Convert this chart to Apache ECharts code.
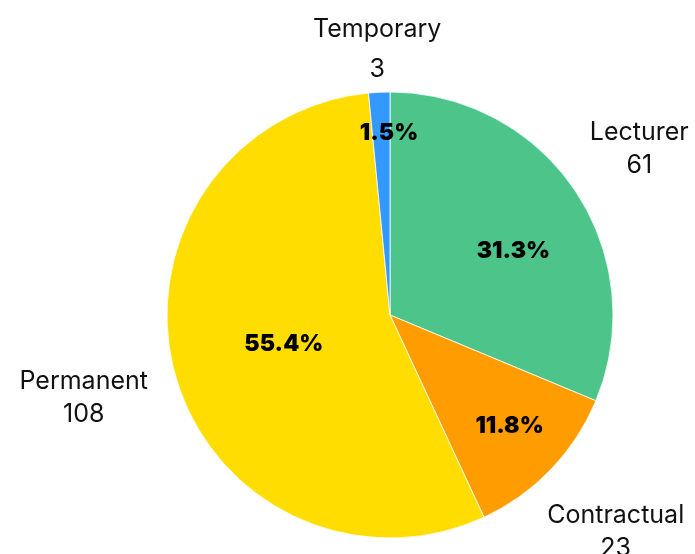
<!DOCTYPE html>
<html>
<head>
<meta charset="utf-8">
<script src="https://cdn.jsdelivr.net/npm/echarts@6/dist/echarts.min.js"></script>
<style>
  html, body { margin: 0; padding: 0; background: #fff; }
  #chart { width: 695px; height: 554px; }
</style>
</head>
<body>
<div id="chart"></div>
<script>
var names = ['Lecturer', 'Contractual', 'Permanent', 'Temporary'];
var counts = [61, 23, 108, 3];
var colors = ['#4dc489', '#ff9c00', '#ffdd00', '#3399ff'];
// where each label sits, as a fraction of the pie radius
var pctDist = [0.63, 0.73, 0.48, 0.82];
var nameDist = [1.33, 1.39, 1.41, 1.18];

var R = 223;
var center = [390, 315];
var total = counts.reduce(function (a, b) { return a + b; }, 0);
var font = 'Inter, "Noto Sans", sans-serif';
// small nudges for the percent labels
var pctNudge = [[4, 16], [0, -4], [0, 0], [8, 4]];

var baseData = names.map(function (n, i) {
  return { name: n, value: counts[i], itemStyle: { color: colors[i] } };
});

var series = [{
  type: 'pie',
  center: center,
  radius: [0, R],
  startAngle: 90,
  clockwise: true,
  silent: true,
  label: { show: false },
  labelLine: { show: false },
  itemStyle: { borderColor: '#fff', borderWidth: 0.8 },
  data: baseData
}];

function labelSeries(idx, dist, fmt, style) {
  return {
    type: 'pie',
    center: center,
    radius: [0, 2 * dist * R],
    startAngle: 90,
    clockwise: true,
    silent: true,
    z: 5,
    itemStyle: { color: 'transparent' },
    labelLine: { show: false },
    label: { show: false },
    data: names.map(function (n, i) {
      var d = { name: n, value: counts[i] };
      if (i === idx) {
        d.label = Object.assign({ show: true, position: 'inside', formatter: fmt }, style);
      }
      return d;
    })
  };
}

names.forEach(function (n, i) {
  series.push(labelSeries(i, pctDist[i], (counts[i] / total * 100).toFixed(1) + '%', {
    fontFamily: font, fontSize: 23, fontWeight: 900, color: '#000',
    offset: pctNudge[i]
  }));
  series.push(labelSeries(i, nameDist[i], n + '\n' + counts[i], {
    fontFamily: font, fontSize: 25, color: '#111',
    lineHeight: n === 'Temporary' ? 40 : 33
  }));
});

var chart = echarts.init(document.getElementById('chart'));
chart.setOption({
  animation: false,
  backgroundColor: '#fff',
  series: series
});
</script>
</body>
</html>
